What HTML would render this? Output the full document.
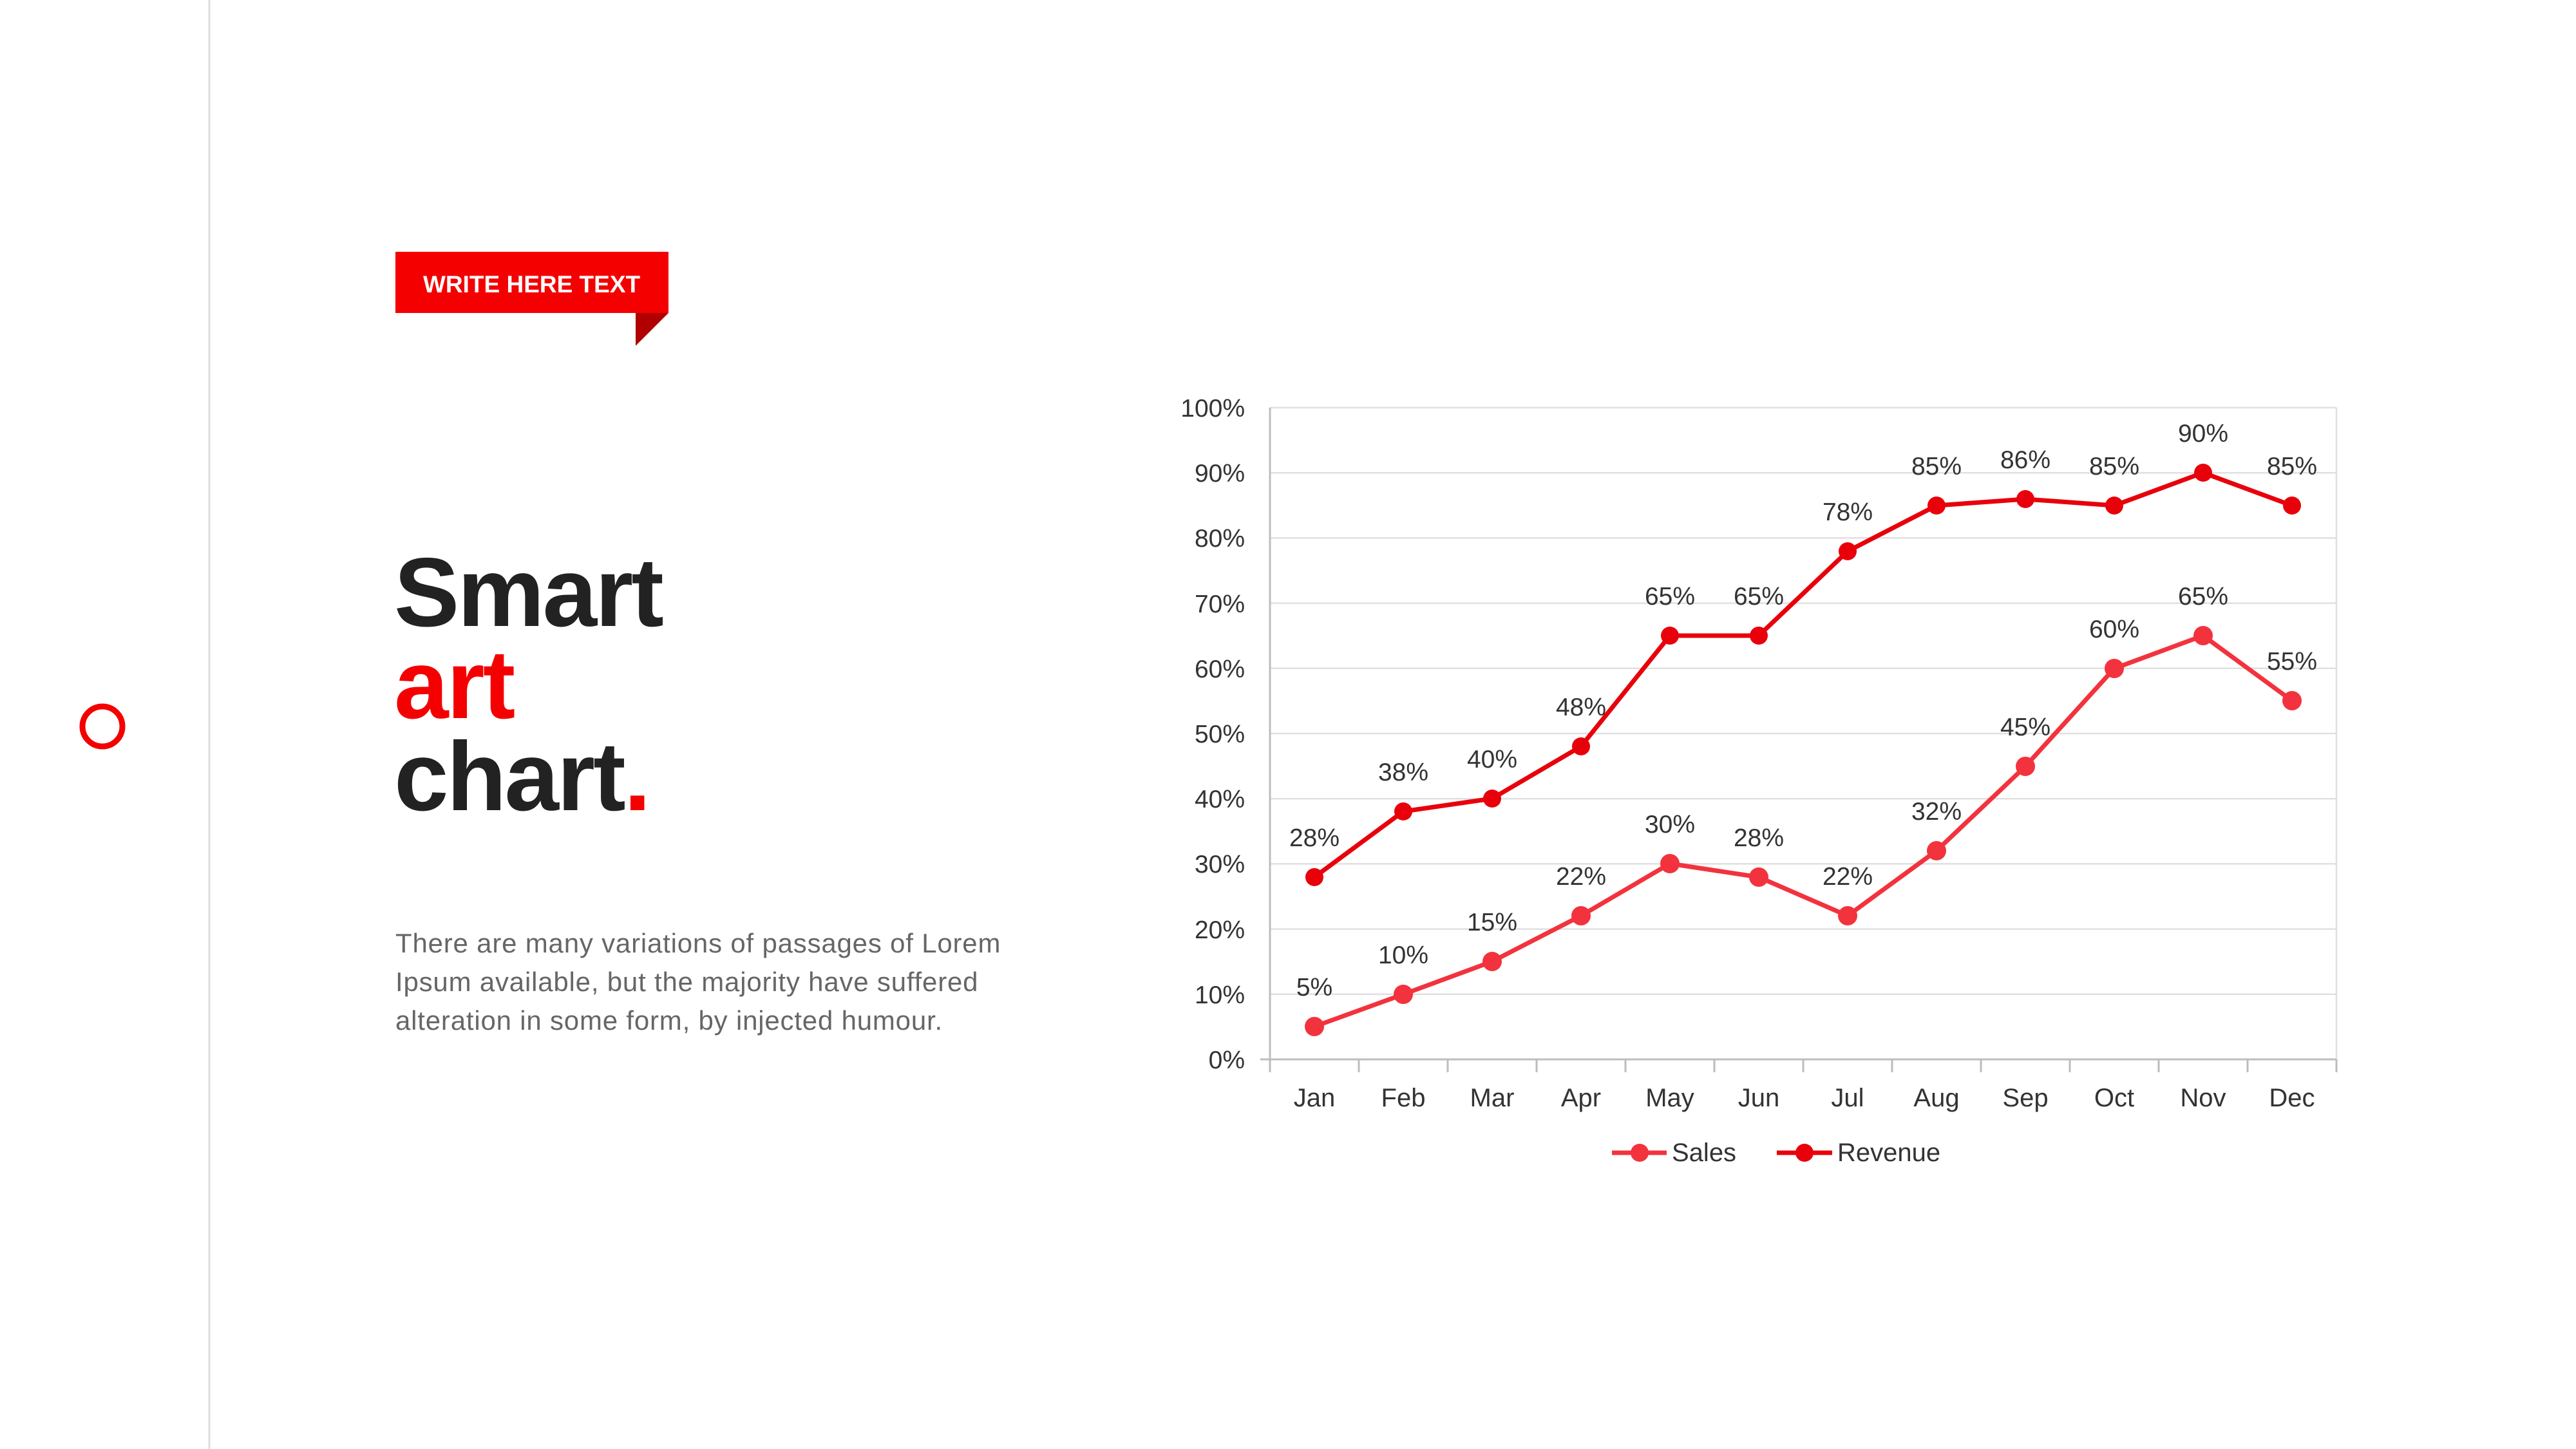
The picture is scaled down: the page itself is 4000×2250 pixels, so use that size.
<!DOCTYPE html>
<html><head><meta charset="utf-8"><style>
html,body{margin:0;padding:0;background:#fff;}
svg{display:block;}
</style></head><body>
<svg width="4000" height="2250" viewBox="0 0 4000 2250" xmlns="http://www.w3.org/2000/svg" font-family="'Liberation Sans', sans-serif">
<rect width="4000" height="2250" fill="#fff"/>
<line x1="325" y1="0" x2="325" y2="2250" stroke="#dcdcdc" stroke-width="3"/>
<circle cx="159" cy="1128" r="31" fill="none" stroke="#f50000" stroke-width="9"/>
<rect x="614" y="391" width="424" height="95" fill="#f50000"/>
<polygon points="987,486 1038,486 987,537" fill="#b00000"/>
<text x="657" y="454" font-size="37" font-weight="bold" fill="#fff">WRITE HERE TEXT</text>
<g font-size="152" font-weight="bold" letter-spacing="-3">
<text x="612" y="972" fill="#222">Smart</text>
<text x="612" y="1115" fill="#f50000">art</text>
<text x="612" y="1258" fill="#222">chart<tspan fill="#f50000">.</tspan></text>
</g>
<g font-size="42" fill="#666" letter-spacing="0.8">
<text x="614" y="1479">There are many variations of passages of Lorem</text>
<text x="614" y="1539">Ipsum available, but the majority have suffered</text>
<text x="614" y="1599">alteration in some form, by injected humour.</text>
</g>
<g stroke="#e0e0e0" stroke-width="2.5">
<line x1="1972" y1="633" x2="3628" y2="633"/>
<line x1="1972" y1="734.2" x2="3628" y2="734.2"/>
<line x1="1972" y1="835.4" x2="3628" y2="835.4"/>
<line x1="1972" y1="936.6" x2="3628" y2="936.6"/>
<line x1="1972" y1="1037.8" x2="3628" y2="1037.8"/>
<line x1="1972" y1="1139" x2="3628" y2="1139"/>
<line x1="1972" y1="1240.2" x2="3628" y2="1240.2"/>
<line x1="1972" y1="1341.4" x2="3628" y2="1341.4"/>
<line x1="1972" y1="1442.6" x2="3628" y2="1442.6"/>
<line x1="1972" y1="1543.8" x2="3628" y2="1543.8"/>
<line x1="3628" y1="633" x2="3628" y2="1645"/>
</g>
<g stroke="#bdbdbd" stroke-width="3">
<line x1="1972" y1="633" x2="1972" y2="1645"/>
<line x1="1957" y1="1645" x2="3628" y2="1645"/>
<line x1="1972" y1="1645" x2="1972" y2="1665"/><line x1="2110" y1="1645" x2="2110" y2="1665"/><line x1="2248" y1="1645" x2="2248" y2="1665"/><line x1="2386" y1="1645" x2="2386" y2="1665"/><line x1="2524" y1="1645" x2="2524" y2="1665"/><line x1="2662" y1="1645" x2="2662" y2="1665"/><line x1="2800" y1="1645" x2="2800" y2="1665"/><line x1="2938" y1="1645" x2="2938" y2="1665"/><line x1="3076" y1="1645" x2="3076" y2="1665"/><line x1="3214" y1="1645" x2="3214" y2="1665"/><line x1="3352" y1="1645" x2="3352" y2="1665"/><line x1="3490" y1="1645" x2="3490" y2="1665"/><line x1="3628" y1="1645" x2="3628" y2="1665"/>
</g>
<g font-size="39" fill="#333" text-anchor="end">
<text x="1933" y="647">100%</text><text x="1933" y="748">90%</text><text x="1933" y="849">80%</text><text x="1933" y="951">70%</text><text x="1933" y="1052">60%</text><text x="1933" y="1153">50%</text><text x="1933" y="1254">40%</text><text x="1933" y="1355">30%</text><text x="1933" y="1457">20%</text><text x="1933" y="1558">10%</text><text x="1933" y="1659">0%</text>
</g>
<g font-size="40" fill="#333" text-anchor="middle">
<text x="2041" y="1718">Jan</text><text x="2179" y="1718">Feb</text><text x="2317" y="1718">Mar</text><text x="2455" y="1718">Apr</text><text x="2593" y="1718">May</text><text x="2731" y="1718">Jun</text><text x="2869" y="1718">Jul</text><text x="3007" y="1718">Aug</text><text x="3145" y="1718">Sep</text><text x="3283" y="1718">Oct</text><text x="3421" y="1718">Nov</text><text x="3559" y="1718">Dec</text>
</g>
<polyline fill="none" stroke="#f2333d" stroke-width="7" stroke-linejoin="round" points="2041,1594 2179,1544 2317,1493 2455,1422 2593,1341 2731,1362 2869,1422 3007,1321 3145,1190 3283,1038 3421,987 3559,1088"/>
<g fill="#f2333d">
<circle cx="2041" cy="1594" r="15"/><circle cx="2179" cy="1544" r="15"/><circle cx="2317" cy="1493" r="15"/><circle cx="2455" cy="1422" r="15"/><circle cx="2593" cy="1341" r="15"/><circle cx="2731" cy="1362" r="15"/><circle cx="2869" cy="1422" r="15"/><circle cx="3007" cy="1321" r="15"/><circle cx="3145" cy="1190" r="15"/><circle cx="3283" cy="1038" r="15"/><circle cx="3421" cy="987" r="15"/><circle cx="3559" cy="1088" r="15"/>
</g>
<polyline fill="none" stroke="#e8000b" stroke-width="7" stroke-linejoin="round" points="2041,1362 2179,1260 2317,1240 2455,1159 2593,987 2731,987 2869,856 3007,785 3145,775 3283,785 3421,734 3559,785"/>
<g fill="#e8000b">
<circle cx="2041" cy="1362" r="14"/><circle cx="2179" cy="1260" r="14"/><circle cx="2317" cy="1240" r="14"/><circle cx="2455" cy="1159" r="14"/><circle cx="2593" cy="987" r="14"/><circle cx="2731" cy="987" r="14"/><circle cx="2869" cy="856" r="14"/><circle cx="3007" cy="785" r="14"/><circle cx="3145" cy="775" r="14"/><circle cx="3283" cy="785" r="14"/><circle cx="3421" cy="734" r="14"/><circle cx="3559" cy="785" r="14"/>
</g>
<g font-size="39" fill="#333" text-anchor="middle">
<text x="2041" y="1546">5%</text><text x="2179" y="1496">10%</text><text x="2317" y="1445">15%</text><text x="2455" y="1374">22%</text><text x="2593" y="1293">30%</text><text x="2731" y="1314">28%</text><text x="2869" y="1374">22%</text><text x="3007" y="1273">32%</text><text x="3145" y="1142">45%</text><text x="3283" y="990">60%</text><text x="3421" y="939">65%</text><text x="3559" y="1040">55%</text>
<text x="2041" y="1314">28%</text><text x="2179" y="1212">38%</text><text x="2317" y="1192">40%</text><text x="2455" y="1111">48%</text><text x="2593" y="939">65%</text><text x="2731" y="939">65%</text><text x="2869" y="808">78%</text><text x="3007" y="737">85%</text><text x="3145" y="727">86%</text><text x="3283" y="737">85%</text><text x="3421" y="686">90%</text><text x="3559" y="737">85%</text>
</g>
<line x1="2503" y1="1790" x2="2588" y2="1790" stroke="#f2333d" stroke-width="7"/>
<circle cx="2546" cy="1790" r="14" fill="#f2333d"/>
<text x="2596" y="1803" font-size="40" fill="#333">Sales</text>
<line x1="2759" y1="1790" x2="2845" y2="1790" stroke="#e8000b" stroke-width="7"/>
<circle cx="2802" cy="1790" r="14" fill="#e8000b"/>
<text x="2853" y="1803" font-size="40" fill="#333">Revenue</text>
</svg>
</body></html>
